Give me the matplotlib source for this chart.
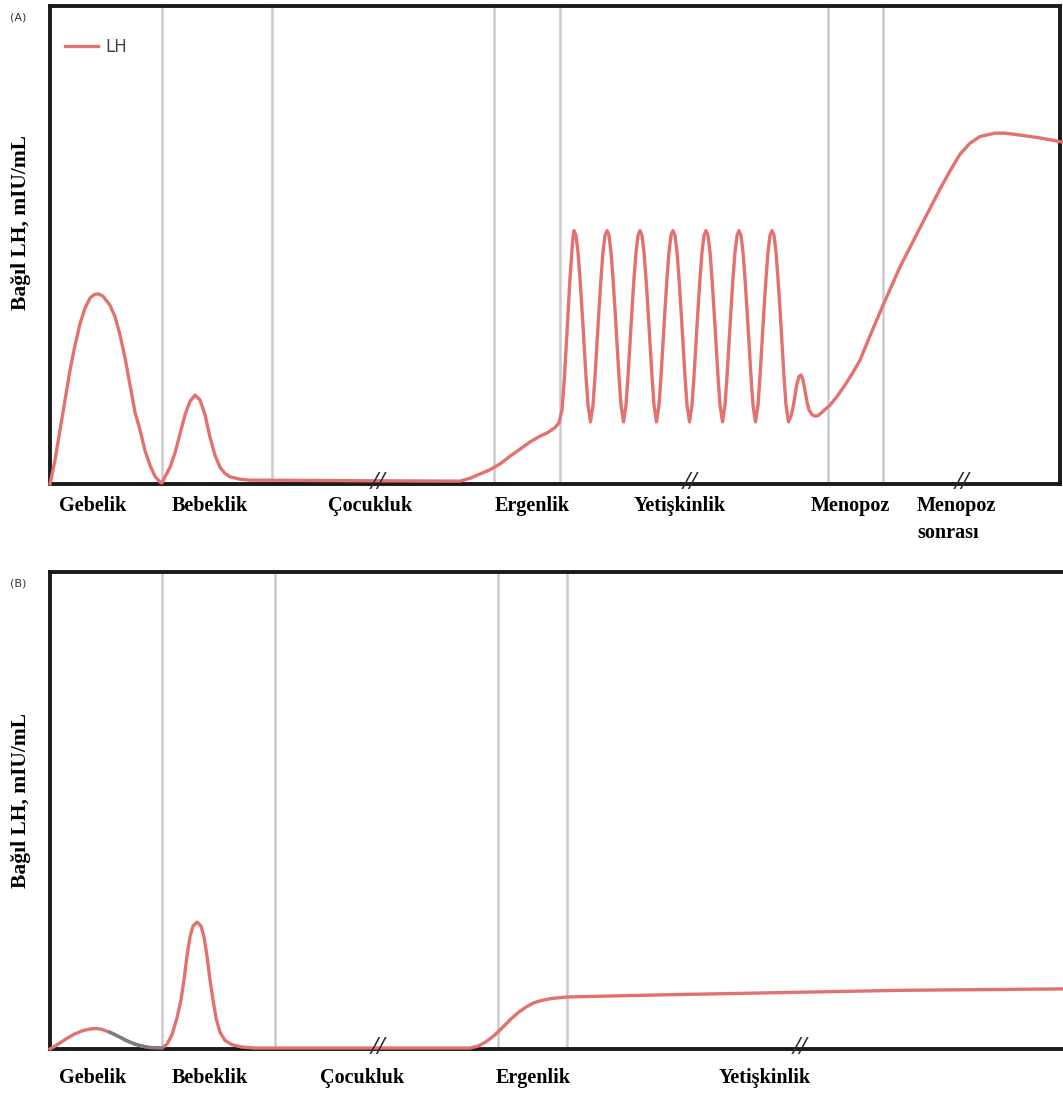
import matplotlib
matplotlib.use("Agg")
import matplotlib.pyplot as plt

# LH curves (x: time in arbitrary units, y: relative LH level 0-100)
a_x = [0, 5, 10, 15, 20, 25, 30, 35, 40, 44, 48, 53, 60, 65, 70, 75, 80, 85, 90, 95,
       100, 105, 110, 112,
       115, 120, 125, 130, 135, 140, 145, 150, 155, 160, 165, 170, 175, 180, 190, 200,
       220, 300, 410,
       420, 430, 440, 450, 460, 470, 480, 490, 498, 505, 509,
       512, 514, 516, 518, 520, 522, 523,
       524, 526, 528, 530, 532, 534, 536, 538, 540.5, 543, 545, 547, 549, 551, 553, 555,
       557, 559, 561, 563, 565, 567, 569, 571, 573.5, 576, 578, 580, 582, 584, 586, 588,
       590, 592, 594, 596, 598, 600, 602, 604, 606.5, 609, 611, 613, 615, 617, 619, 621,
       623, 625, 627, 629, 631, 633, 635, 637, 639.5, 642, 644, 646, 648, 650, 652, 654,
       656, 658, 660, 662, 664, 666, 668, 670, 672.5, 675, 677, 679, 681, 683, 685, 687,
       689, 691, 693, 695, 697, 699, 701, 703, 705.5, 708, 710, 712, 714, 716, 718, 720,
       722, 724, 726, 728, 730, 732, 734, 736, 738.5,
       741, 743, 745, 747, 749, 751, 753, 755, 757, 759, 762, 765, 768, 772, 776,
       780, 787, 795, 802, 810, 820, 833, 850, 870, 890, 900, 910, 920, 930, 945,
       955, 970, 990, 1013]
a_y = [0, 5.0, 11.3, 17.5, 23.8, 29.0, 33.5, 36.8, 38.9, 39.6, 39.8, 39.3, 37.4, 35.0, 31.2, 26.4,
       20.7, 15.0, 11.3, 7.0,
       3.9, 1.6, 0.4, 0.2,
       1.5, 3.5, 6.5, 10.5, 14.5, 17.3, 18.6, 17.6, 14.5, 9.8, 6.0, 3.5, 2.2, 1.5, 1.0, 0.8,
       0.8, 0.7, 0.6,
       1.2, 2.1, 3.0, 4.2, 5.8, 7.3, 8.8, 10.0, 10.8, 11.8, 12.8,
       15.5, 21.0, 28.0, 35.5, 43.0, 49.0, 51.5,
       53, 52, 48.5, 43, 36.5, 29.5, 22.5, 16.5, 13, 16.5, 22.5, 29.5, 36.5, 43, 48.5, 52,
       53, 52, 48.5, 43, 36.5, 29.5, 22.5, 16.5, 13, 16.5, 22.5, 29.5, 36.5, 43, 48.5, 52,
       53, 52, 48.5, 43, 36.5, 29.5, 22.5, 16.5, 13, 16.5, 22.5, 29.5, 36.5, 43, 48.5, 52,
       53, 52, 48.5, 43, 36.5, 29.5, 22.5, 16.5, 13, 16.5, 22.5, 29.5, 36.5, 43, 48.5, 52,
       53, 52, 48.5, 43, 36.5, 29.5, 22.5, 16.5, 13, 16.5, 22.5, 29.5, 36.5, 43, 48.5, 52,
       53, 52, 48.5, 43, 36.5, 29.5, 22.5, 16.5, 13, 16.5, 22.5, 29.5, 36.5, 43, 48.5, 52,
       53, 52, 48.5, 43, 36.5, 29.5, 22.5, 16.5, 13,
       14.2, 16.0, 18.5, 21.0, 22.5, 22.8, 21.8, 19.5, 17.2, 15.5, 14.5, 14.2, 14.3, 15.0, 15.8,
       16.5, 18.3, 20.7, 23.0, 25.9, 31.0, 37.4, 45.4, 53.6, 61.7, 65.5, 69.0, 71.3, 72.7, 73.4,
       73.4, 73.0, 72.4, 71.5]

b_x = [0, 8, 16, 24, 32, 40, 46, 52, 60, 68, 76, 84, 92, 100, 112,
       117, 122, 127, 131, 134, 137, 140, 143, 147, 151, 154, 157, 160, 163, 166, 170, 175,
       182, 192, 205, 420,
       428, 436, 444, 452, 460, 468, 476, 484, 492, 502, 517, 600, 750, 850, 1013]
b_y = [0, 1.0, 2.1, 3.1, 3.8, 4.2, 4.3, 4.1, 3.5, 2.7, 1.8, 1.1, 0.6, 0.3, 0.2,
       1.0, 3.0, 6.5, 10.3, 14.5, 19.5, 23.5, 25.8, 26.6, 25.8, 23.5, 19.5, 14.5, 10.3, 6.5,
       3.5, 1.8, 0.9, 0.4, 0.2, 0.2,
       0.6, 1.5, 2.8, 4.4, 6.1, 7.6, 8.8, 9.7, 10.2, 10.6, 10.9, 11.3, 11.9, 12.3, 12.6]

a_bounds = [112, 222, 444, 510, 778, 833]
b_bounds = [112, 225, 448, 517]
a_breaks = [328, 640, 912]
b_breaks = [328, 750]
a_stages = ["Gebelik", "Bebeklik", "Çocukluk", "Ergenlik", "Yetişkinlik", "Menopoz"]
a_stage_x = [43, 160, 320, 482, 630, 800]
b_stages = ["Gebelik", "Bebeklik", "Çocukluk", "Ergenlik", "Yetişkinlik"]
b_stage_x = [43, 160, 312, 483, 715]

red = "#e27170"
grid_col = "#cccccc"
serif = ["Liberation Serif", "DejaVu Serif"]

fig = plt.figure(figsize=(10.63, 10.93), dpi=100)
axA = fig.add_axes([50 / 1063, 1 - 484 / 1093, 1010 / 1063, 478 / 1093])
axB = fig.add_axes([50 / 1063, 1 - 1049 / 1093, 1013 / 1063, 477 / 1093])


def setup(ax, xmax, bounds, breaks):
    ax.set_xlim(0, xmax)
    ax.set_ylim(0, 100)
    ax.set_xticks([])
    ax.set_yticks([])
    for s in ax.spines.values():
        s.set_linewidth(2.8)
        s.set_color("#1a1a1a")
    for b in bounds:
        ax.axvline(b, color=grid_col, lw=1.8, zorder=1)
    for b in breaks:
        ax.text(b, 0.003, "//", fontsize=19, fontweight="bold", style="italic",
                ha="center", va="center", color="#2a2a2a",
                transform=ax.get_xaxis_transform(), clip_on=False,
                family=serif, zorder=5)


setup(axA, 1010, a_bounds, a_breaks)
setup(axB, 1013, b_bounds, b_breaks)
axB.spines["right"].set_visible(False)

axA.plot(a_x, a_y, color=red, lw=2.4, label="LH", clip_on=False, zorder=3)
axB.plot(b_x, b_y, color=red, lw=2.4, clip_on=False, zorder=3)
# greyish stretch on the falling side of the gestation bump (as in the source)
axB.plot(b_x[8:15], b_y[8:15], color="#7c7c86", lw=2.4, zorder=4)

# stage labels
for name, x in zip(a_stages, a_stage_x):
    axA.text(x, -0.045, name, ha="center", va="center", fontsize=14.5,
             fontweight="bold", family=serif, transform=axA.get_xaxis_transform())
axA.text(867, -0.045, "Menopoz", ha="left", va="center", fontsize=14.5,
         fontweight="bold", family=serif, transform=axA.get_xaxis_transform())
axA.text(867, -0.103, "sonrası", ha="left", va="center", fontsize=14.5,
         fontweight="bold", family=serif, transform=axA.get_xaxis_transform())
for name, x in zip(b_stages, b_stage_x):
    axB.text(x, -0.061, name, ha="center", va="center", fontsize=14.5,
             fontweight="bold", family=serif, transform=axB.get_xaxis_transform())

# y labels
fig.text(21 / 1063, 1 - 222 / 1093, "Bağıl LH, mIU/mL", rotation=90, ha="center",
         va="center", fontsize=15.5, fontweight="bold", family=serif)
fig.text(21 / 1063, 1 - 800 / 1093, "Bağıl LH, mIU/mL", rotation=90, ha="center",
         va="center", fontsize=15.5, fontweight="bold", family=serif)

fig.text(18 / 1063, 1 - 18 / 1093, "(A)", ha="center", va="center", fontsize=8, color="#333333")
fig.text(18 / 1063, 1 - 583 / 1093, "(B)", ha="center", va="center", fontsize=8, color="#333333")

axA.legend(loc="upper left", bbox_to_anchor=(0.0, 0.965), frameon=False,
           fontsize=12, handlelength=2.0, handletextpad=0.4, labelcolor="#444444")

fig.savefig("out.png", dpi=100)
